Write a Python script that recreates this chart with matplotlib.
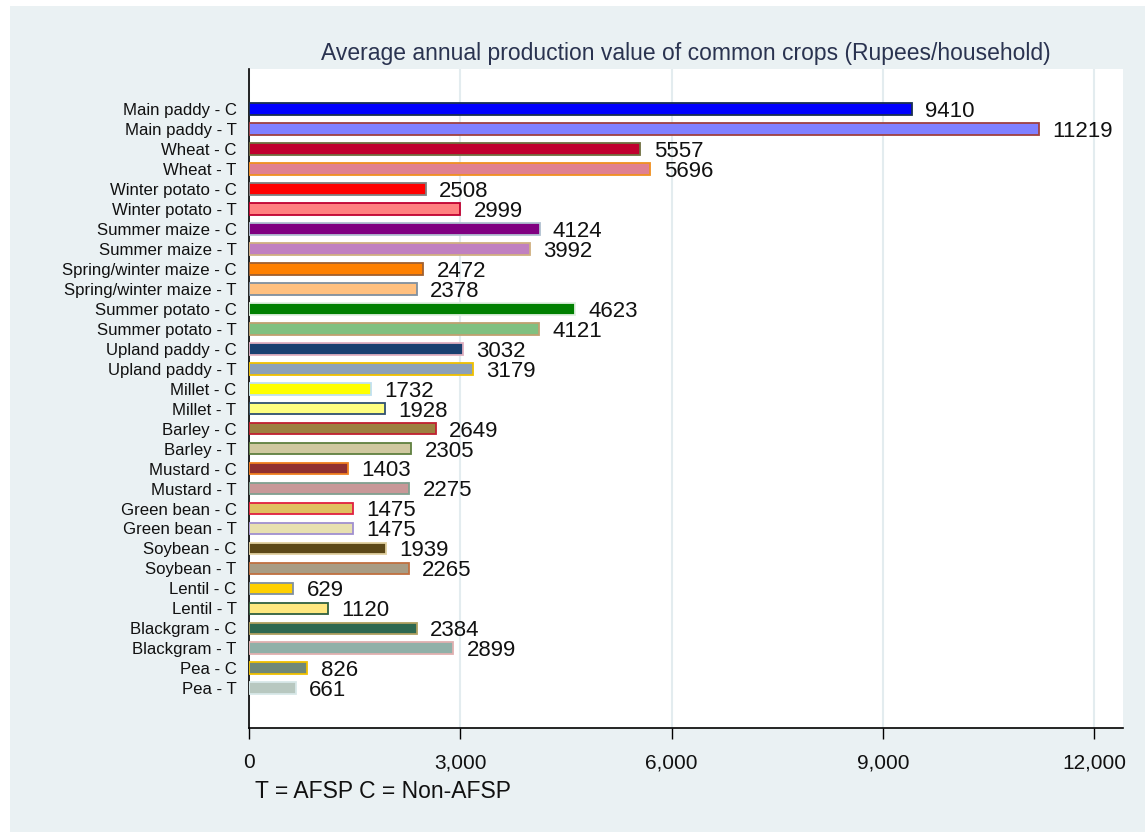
import matplotlib.pyplot as plt
from matplotlib.patches import Rectangle

plt.rcParams['font.family'] = ['Liberation Sans', 'DejaVu Sans']

# data
crops = ["Main paddy", "Wheat", "Winter potato", "Summer maize", "Spring/winter maize",
         "Summer potato", "Upland paddy", "Millet", "Barley", "Mustard",
         "Green bean", "Soybean", "Lentil", "Blackgram", "Pea"]
labels = []
for c in crops:
    labels += [c + " - C", c + " - T"]
values = [9410, 11219, 5557, 5696, 2508, 2999, 4124, 3992, 2472, 2378,
          4623, 4121, 3032, 3179, 1732, 1928, 2649, 2305, 1403, 2275,
          1475, 1475, 1939, 2265, 629, 1120, 2384, 2899, 826, 661]
fill_colors = ["#0000FF", "#8080FF", "#C0002E", "#E08090", "#FF0000", "#FF8080",
               "#800080", "#C080C0", "#FF8000", "#FFC080", "#008000", "#80C080",
               "#1A4070", "#8CA0B8", "#FFFF00", "#FFFF80", "#9C8040", "#D0C8A0",
               "#903030", "#C89898", "#E0C060", "#E8E0B0", "#5C4818", "#A89C84",
               "#FFD000", "#FFE880", "#2E6850", "#90B0A8", "#708878", "#B8C8C0"]
edge_colors = ["#1A3050", "#A04040", "#707040", "#F09020", "#808080", "#C00030",
               "#B0C0D0", "#D0B080", "#A06030", "#8090A0", "#E0F0E0", "#C0A070",
               "#E0B0C0", "#F0C000", "#C0E0F0", "#305070", "#C02030", "#608040",
               "#F08020", "#80A090", "#E02040", "#A090D0", "#E0D0A0", "#C07040",
               "#8090A0", "#306040", "#B0A060", "#E0B0B0", "#F0C000", "#D8E8E8"]

fig = plt.figure(figsize=(11.45, 8.35), dpi=100, facecolor="white")
fig.patches.append(Rectangle((10 / 1145, 0.003), 1 - 10 / 1145, 1 - 6 / 835 - 0.003,
                             transform=fig.transFigure, facecolor="#EAF1F3",
                             edgecolor="none", zorder=-10))

ax = fig.add_axes([0.2175, 0.128, 0.7635, 0.789])
ypos = list(range(len(values)))
ax.barh(ypos, values, height=0.58, color=fill_colors, edgecolor=edge_colors,
        linewidth=1.3, zorder=3)
for y, v in zip(ypos, values):
    ax.text(v + 190, y + 0.12, str(v), va="center", ha="left", fontsize=16, color="#111111")

ax.set_ylim(31, -2)
ax.set_xlim(0, 12412)
ax.set_yticks(ypos)
ax.set_yticklabels(labels, fontsize=12.1, color="#111111")
ax.tick_params(axis="y", length=0, pad=9)
ax.set_xticks([0, 3000, 6000, 9000, 12000])
ax.set_xticklabels(["0", "3,000", "6,000", "9,000", "12,000"], fontsize=15, color="#111111")
ax.tick_params(axis="x", length=8, width=1, pad=10)
ax.grid(axis="x", color="#E3ECEF", linewidth=1.5, zorder=0)
for s in ["top", "right"]:
    ax.spines[s].set_visible(False)
ax.spines["bottom"].set_linewidth(1.2)
ax.spines["left"].set_linewidth(1.2)
ax.set_title("Average annual production value of common crops (Rupees/household)",
             fontsize=16.5, color="#2A3350", pad=7)
fig.text(255 / 1145, 1 - 792 / 835, "T = AFSP C = Non-AFSP", fontsize=16.5,
         va="center", ha="left", color="#111111")

fig.savefig("out.png", dpi=100, facecolor=fig.get_facecolor())
